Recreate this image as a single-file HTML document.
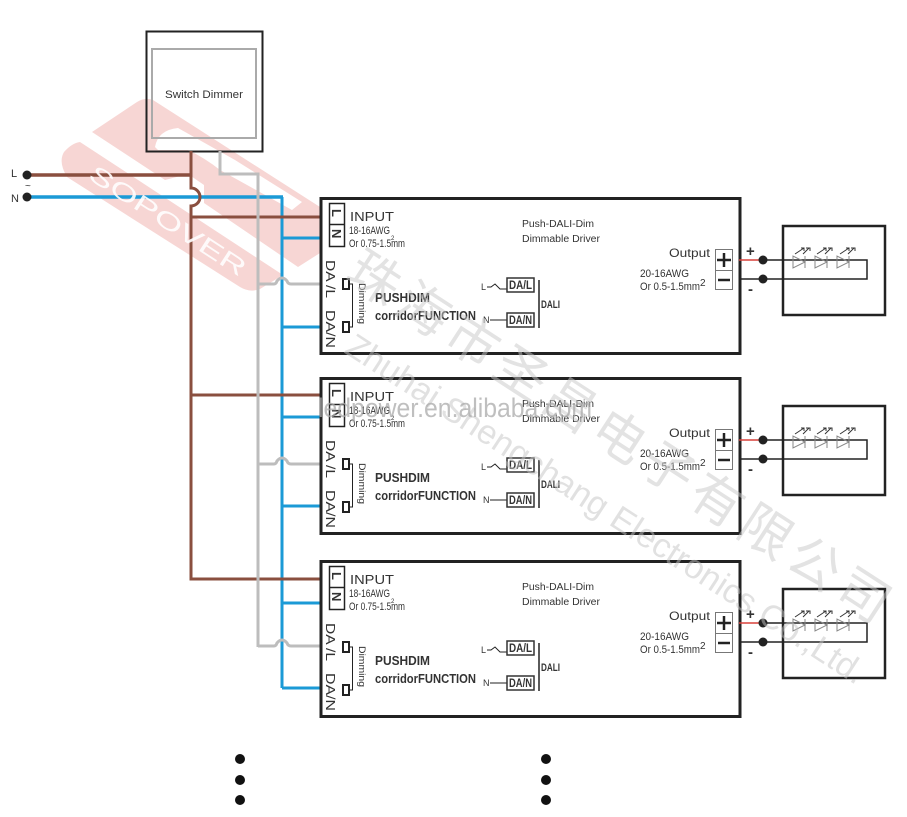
<!DOCTYPE html>
<html><head><meta charset="utf-8"><style>
html,body{margin:0;padding:0;background:#fff}
svg{display:block;filter:blur(.35px)}
text{font-family:"Liberation Sans","Noto Sans CJK SC",sans-serif;fill:#333}
.b{stroke:#8a4f3f;stroke-width:3;fill:none}
.u{stroke:#1b9ad6;stroke-width:3;fill:none}
.g{stroke:#bdbdbd;stroke-width:3;fill:none}
.k{stroke:#222;fill:none}
.l{stroke:#888;stroke-width:1;fill:none}
</style></head><body>
<svg width="907" height="817" viewBox="0 0 907 817" xmlns="http://www.w3.org/2000/svg">
<rect width="907" height="817" fill="#fff"/>
<!-- logo watermark -->
<g fill="#f7d6d4">
<path d="M64,152 Q58,162 67,177 L240,287 Q250,293 260,289 L283,275 L80,142 Q72,143 64,152Z"/>
<path d="M92,132 L137,102 Q145,97 153,100 L320,207 L320,253 L298,267 L204,203 L204,185 L188,174 L165,180Z"/>
</g>
<path fill="#fff" d="M155,147 Q158,130 178,128 L235,160 L302,202 L292,210 L220,170 Q205,158 188,150 L158,150Z"/>
<!-- switch -->
<rect x="146.500" y="31.500" width="116" height="120" class="k" stroke-width="2" fill="none"/>
<rect x="152" y="49" width="104" height="89" fill="none" stroke="#aaa" stroke-width="2"/>
<text x="165" y="98" font-size="11" textLength="78" lengthAdjust="spacingAndGlyphs">Switch Dimmer</text>
<!-- wires -->
<path class="u" d="M282,197 V688"/>
<path class="u" stroke-width="3.500" style="stroke-width:3.500px" d="M27,197 H283"/>
<path class="u" d="M282,238 H321 M282,327 H321 M282,417 H321 M282,506 H321 M282,603 H321 M282,688 H321"/>
<path class="b" style="stroke-width:3.500px" d="M27,175 H191"/>
<path class="b" d="M191,151 V188 A9,9 0 0 1 191,206 V579 H321 M191,217 H321 M191,395 H321"/>
<path class="g" d="M220,151 V174 H258 V647 M258,284 H274 Q276,284 277,281 Q282,275 287,281 Q288,284 291,284 H321 M258,464 H274 Q276,464 277,461 Q282,455 287,461 Q288,464 291,464 H321 M258,646 H274 Q276,646 277,643 Q282,637 287,643 Q288,646 291,646 H321"/>
<circle cx="27" cy="175" r="4.500" fill="#222"/><circle cx="27" cy="197" r="4.500" fill="#222"/>
<text x="11" y="177" font-size="11">L</text><text x="11" y="202" font-size="11">N</text><text x="25" y="189" font-size="10">~</text>

<g>
<rect x="321" y="198.500" width="419" height="155" fill="none" stroke="#222" stroke-width="3"/>
<rect x="329.500" y="203.500" width="15" height="43" class="k" stroke-width="1.500"/><path class="k" stroke-width="1.500" d="M329,224.500H345"/>
<text transform="translate(332,209) rotate(90)" font-size="13" font-weight="bold">L</text>
<text transform="translate(332,229) rotate(90)" font-size="13" font-weight="bold">N</text>
<text x="350" y="221" font-size="12.500" textLength="44" lengthAdjust="spacingAndGlyphs">INPUT</text>
<text x="349" y="234" font-size="11" textLength="41" lengthAdjust="spacingAndGlyphs">18-16AWG</text>
<text x="349" y="247" font-size="11" textLength="56" lengthAdjust="spacingAndGlyphs">Or 0.75-1.5mm</text><text x="391" y="240" font-size="6">2</text>
<text transform="translate(326,260) rotate(90)" font-size="13" textLength="38" lengthAdjust="spacingAndGlyphs">DA /L</text>
<text transform="translate(326,310) rotate(90)" font-size="13" textLength="38" lengthAdjust="spacingAndGlyphs">DA/N</text>
<rect x="343" y="279" width="6" height="10" fill="#fff" stroke="#222" stroke-width="2"/><rect x="343" y="322" width="6" height="10" fill="#fff" stroke="#222" stroke-width="2"/>
<path class="k" d="M349,284H352.500V327H349"/>
<text transform="translate(359,283) rotate(90)" font-size="9" textLength="41" lengthAdjust="spacingAndGlyphs">Dimming</text>
<text x="375" y="302" font-size="13" font-weight="bold" textLength="55" lengthAdjust="spacingAndGlyphs">PUSHDIM</text>
<text x="375" y="320" font-size="13" font-weight="bold" textLength="101" lengthAdjust="spacingAndGlyphs">corridorFUNCTION</text>
<text x="481" y="290" font-size="9">L</text><text x="483" y="323" font-size="9">N</text>
<path class="k" d="M487,287H491L495,284L500,289H507M490,320H507"/>
<rect x="507" y="278" width="27" height="14" fill="none" stroke="#333" stroke-width="1.500"/><rect x="507" y="313" width="27" height="14" fill="none" stroke="#333" stroke-width="1.500"/>
<text x="509" y="289" font-size="11.500" font-weight="bold" textLength="23" lengthAdjust="spacingAndGlyphs">DA/L</text><text x="509" y="324" font-size="11.500" font-weight="bold" textLength="23" lengthAdjust="spacingAndGlyphs">DA/N</text>
<path class="k" stroke-width="1.500" d="M539,280V328"/>
<text x="541" y="308" font-size="11" font-weight="bold" textLength="19" lengthAdjust="spacingAndGlyphs">DALI</text>
<text x="522" y="227" font-size="10" textLength="72" lengthAdjust="spacingAndGlyphs">Push-DALI-Dim</text>
<text x="522" y="242" font-size="10" textLength="78" lengthAdjust="spacingAndGlyphs">Dimmable Driver</text>
<text x="669" y="257" font-size="11.500" textLength="41" lengthAdjust="spacingAndGlyphs">Output</text>
<text x="640" y="277" font-size="11" textLength="49" lengthAdjust="spacingAndGlyphs">20-16AWG</text>
<text x="640" y="290" font-size="11" textLength="60" lengthAdjust="spacingAndGlyphs">Or 0.5-1.5mm</text><text x="700" y="286" font-size="10">2</text>
<rect x="715.500" y="249.500" width="17" height="40" fill="none" stroke="#777"/><path stroke="#777" d="M715,270.500H733"/>
<path stroke="#222" stroke-width="2.500" d="M717,260H731M724,253V267M718,280H730"/>
<text x="746" y="256" font-size="15" font-weight="bold">+</text><text x="748" y="294" font-size="15" font-weight="bold">-</text>
<path d="M739,260H760" stroke="#d8403a" stroke-width="1.500"/><path class="k" stroke-width="1.500" d="M760,260H867V279H739"/>
<circle cx="763" cy="260" r="4.500" fill="#222"/><circle cx="763" cy="279" r="4.500" fill="#222"/>
<rect x="783" y="226" width="102" height="89" fill="none" stroke="#222" stroke-width="2.500"/>
<g class="l"><path d="M793,256V268L805,262ZM805,256V268M815,256V268L827,262ZM827,256V268M837,256V268L849,262ZM849,256V268"/></g>
<path stroke="#333" stroke-width="1" fill="none" d="M795,254L804,248M801,248H804V251M803,254L809,248M806,248H810V251M817,254L826,248M823,248H826V251M825,254L831,248M828,248H832V251M840,254L849,248M846,248H849V251M848,254L854,248M851,248H855V251"/>
</g>

<g transform="translate(0,180)">
<rect x="321" y="198.500" width="419" height="155" fill="none" stroke="#222" stroke-width="3"/>
<rect x="329.500" y="203.500" width="15" height="43" class="k" stroke-width="1.500"/><path class="k" stroke-width="1.500" d="M329,224.500H345"/>
<text transform="translate(332,209) rotate(90)" font-size="13" font-weight="bold">L</text>
<text transform="translate(332,229) rotate(90)" font-size="13" font-weight="bold">N</text>
<text x="350" y="221" font-size="12.500" textLength="44" lengthAdjust="spacingAndGlyphs">INPUT</text>
<text x="349" y="234" font-size="11" textLength="41" lengthAdjust="spacingAndGlyphs">18-16AWG</text>
<text x="349" y="247" font-size="11" textLength="56" lengthAdjust="spacingAndGlyphs">Or 0.75-1.5mm</text><text x="391" y="240" font-size="6">2</text>
<text transform="translate(326,260) rotate(90)" font-size="13" textLength="38" lengthAdjust="spacingAndGlyphs">DA /L</text>
<text transform="translate(326,310) rotate(90)" font-size="13" textLength="38" lengthAdjust="spacingAndGlyphs">DA/N</text>
<rect x="343" y="279" width="6" height="10" fill="#fff" stroke="#222" stroke-width="2"/><rect x="343" y="322" width="6" height="10" fill="#fff" stroke="#222" stroke-width="2"/>
<path class="k" d="M349,284H352.500V327H349"/>
<text transform="translate(359,283) rotate(90)" font-size="9" textLength="41" lengthAdjust="spacingAndGlyphs">Dimming</text>
<text x="375" y="302" font-size="13" font-weight="bold" textLength="55" lengthAdjust="spacingAndGlyphs">PUSHDIM</text>
<text x="375" y="320" font-size="13" font-weight="bold" textLength="101" lengthAdjust="spacingAndGlyphs">corridorFUNCTION</text>
<text x="481" y="290" font-size="9">L</text><text x="483" y="323" font-size="9">N</text>
<path class="k" d="M487,287H491L495,284L500,289H507M490,320H507"/>
<rect x="507" y="278" width="27" height="14" fill="none" stroke="#333" stroke-width="1.500"/><rect x="507" y="313" width="27" height="14" fill="none" stroke="#333" stroke-width="1.500"/>
<text x="509" y="289" font-size="11.500" font-weight="bold" textLength="23" lengthAdjust="spacingAndGlyphs">DA/L</text><text x="509" y="324" font-size="11.500" font-weight="bold" textLength="23" lengthAdjust="spacingAndGlyphs">DA/N</text>
<path class="k" stroke-width="1.500" d="M539,280V328"/>
<text x="541" y="308" font-size="11" font-weight="bold" textLength="19" lengthAdjust="spacingAndGlyphs">DALI</text>
<text x="522" y="227" font-size="10" textLength="72" lengthAdjust="spacingAndGlyphs">Push-DALI-Dim</text>
<text x="522" y="242" font-size="10" textLength="78" lengthAdjust="spacingAndGlyphs">Dimmable Driver</text>
<text x="669" y="257" font-size="11.500" textLength="41" lengthAdjust="spacingAndGlyphs">Output</text>
<text x="640" y="277" font-size="11" textLength="49" lengthAdjust="spacingAndGlyphs">20-16AWG</text>
<text x="640" y="290" font-size="11" textLength="60" lengthAdjust="spacingAndGlyphs">Or 0.5-1.5mm</text><text x="700" y="286" font-size="10">2</text>
<rect x="715.500" y="249.500" width="17" height="40" fill="none" stroke="#777"/><path stroke="#777" d="M715,270.500H733"/>
<path stroke="#222" stroke-width="2.500" d="M717,260H731M724,253V267M718,280H730"/>
<text x="746" y="256" font-size="15" font-weight="bold">+</text><text x="748" y="294" font-size="15" font-weight="bold">-</text>
<path d="M739,260H760" stroke="#d8403a" stroke-width="1.500"/><path class="k" stroke-width="1.500" d="M760,260H867V279H739"/>
<circle cx="763" cy="260" r="4.500" fill="#222"/><circle cx="763" cy="279" r="4.500" fill="#222"/>
<rect x="783" y="226" width="102" height="89" fill="none" stroke="#222" stroke-width="2.500"/>
<g class="l"><path d="M793,256V268L805,262ZM805,256V268M815,256V268L827,262ZM827,256V268M837,256V268L849,262ZM849,256V268"/></g>
<path stroke="#333" stroke-width="1" fill="none" d="M795,254L804,248M801,248H804V251M803,254L809,248M806,248H810V251M817,254L826,248M823,248H826V251M825,254L831,248M828,248H832V251M840,254L849,248M846,248H849V251M848,254L854,248M851,248H855V251"/>
</g>

<g transform="translate(0,363)">
<rect x="321" y="198.500" width="419" height="155" fill="none" stroke="#222" stroke-width="3"/>
<rect x="329.500" y="203.500" width="15" height="43" class="k" stroke-width="1.500"/><path class="k" stroke-width="1.500" d="M329,224.500H345"/>
<text transform="translate(332,209) rotate(90)" font-size="13" font-weight="bold">L</text>
<text transform="translate(332,229) rotate(90)" font-size="13" font-weight="bold">N</text>
<text x="350" y="221" font-size="12.500" textLength="44" lengthAdjust="spacingAndGlyphs">INPUT</text>
<text x="349" y="234" font-size="11" textLength="41" lengthAdjust="spacingAndGlyphs">18-16AWG</text>
<text x="349" y="247" font-size="11" textLength="56" lengthAdjust="spacingAndGlyphs">Or 0.75-1.5mm</text><text x="391" y="240" font-size="6">2</text>
<text transform="translate(326,260) rotate(90)" font-size="13" textLength="38" lengthAdjust="spacingAndGlyphs">DA /L</text>
<text transform="translate(326,310) rotate(90)" font-size="13" textLength="38" lengthAdjust="spacingAndGlyphs">DA/N</text>
<rect x="343" y="279" width="6" height="10" fill="#fff" stroke="#222" stroke-width="2"/><rect x="343" y="322" width="6" height="10" fill="#fff" stroke="#222" stroke-width="2"/>
<path class="k" d="M349,284H352.500V327H349"/>
<text transform="translate(359,283) rotate(90)" font-size="9" textLength="41" lengthAdjust="spacingAndGlyphs">Dimming</text>
<text x="375" y="302" font-size="13" font-weight="bold" textLength="55" lengthAdjust="spacingAndGlyphs">PUSHDIM</text>
<text x="375" y="320" font-size="13" font-weight="bold" textLength="101" lengthAdjust="spacingAndGlyphs">corridorFUNCTION</text>
<text x="481" y="290" font-size="9">L</text><text x="483" y="323" font-size="9">N</text>
<path class="k" d="M487,287H491L495,284L500,289H507M490,320H507"/>
<rect x="507" y="278" width="27" height="14" fill="none" stroke="#333" stroke-width="1.500"/><rect x="507" y="313" width="27" height="14" fill="none" stroke="#333" stroke-width="1.500"/>
<text x="509" y="289" font-size="11.500" font-weight="bold" textLength="23" lengthAdjust="spacingAndGlyphs">DA/L</text><text x="509" y="324" font-size="11.500" font-weight="bold" textLength="23" lengthAdjust="spacingAndGlyphs">DA/N</text>
<path class="k" stroke-width="1.500" d="M539,280V328"/>
<text x="541" y="308" font-size="11" font-weight="bold" textLength="19" lengthAdjust="spacingAndGlyphs">DALI</text>
<text x="522" y="227" font-size="10" textLength="72" lengthAdjust="spacingAndGlyphs">Push-DALI-Dim</text>
<text x="522" y="242" font-size="10" textLength="78" lengthAdjust="spacingAndGlyphs">Dimmable Driver</text>
<text x="669" y="257" font-size="11.500" textLength="41" lengthAdjust="spacingAndGlyphs">Output</text>
<text x="640" y="277" font-size="11" textLength="49" lengthAdjust="spacingAndGlyphs">20-16AWG</text>
<text x="640" y="290" font-size="11" textLength="60" lengthAdjust="spacingAndGlyphs">Or 0.5-1.5mm</text><text x="700" y="286" font-size="10">2</text>
<rect x="715.500" y="249.500" width="17" height="40" fill="none" stroke="#777"/><path stroke="#777" d="M715,270.500H733"/>
<path stroke="#222" stroke-width="2.500" d="M717,260H731M724,253V267M718,280H730"/>
<text x="746" y="256" font-size="15" font-weight="bold">+</text><text x="748" y="294" font-size="15" font-weight="bold">-</text>
<path d="M739,260H760" stroke="#d8403a" stroke-width="1.500"/><path class="k" stroke-width="1.500" d="M760,260H867V279H739"/>
<circle cx="763" cy="260" r="4.500" fill="#222"/><circle cx="763" cy="279" r="4.500" fill="#222"/>
<rect x="783" y="226" width="102" height="89" fill="none" stroke="#222" stroke-width="2.500"/>
<g class="l"><path d="M793,256V268L805,262ZM805,256V268M815,256V268L827,262ZM827,256V268M837,256V268L849,262ZM849,256V268"/></g>
<path stroke="#333" stroke-width="1" fill="none" d="M795,254L804,248M801,248H804V251M803,254L809,248M806,248H810V251M817,254L826,248M823,248H826V251M825,254L831,248M828,248H832V251M840,254L849,248M846,248H849V251M848,254L854,248M851,248H855V251"/>
</g>

<g fill="#111"><circle cx="240" cy="759" r="5"/><circle cx="240" cy="780" r="5"/><circle cx="240" cy="800" r="5"/><circle cx="546" cy="759" r="5"/><circle cx="546" cy="780" r="5"/><circle cx="546" cy="800" r="5"/></g>

<!-- text watermarks -->
<text transform="translate(87,178) rotate(33)" font-size="24" textLength="182" lengthAdjust="spacingAndGlyphs" style="fill:#fff;opacity:.9">SOPOVER</text>
<g opacity=".5">
<text transform="translate(343,279) rotate(33)" font-size="52" textLength="635" style="fill:#c8c8c8">珠海市圣昌电子有限公司</text>
<text transform="translate(343,352) rotate(33)" font-size="34" textLength="612" lengthAdjust="spacingAndGlyphs" style="fill:#c4c4c4">Zhuhai Shengchang Electronics Co.,Ltd.</text>
</g>
<text x="318" y="417" font-size="27" textLength="274" lengthAdjust="spacingAndGlyphs" style="fill:#aaa;opacity:.75">ledpower.en.alibaba.com</text>
</svg>
</body></html>
